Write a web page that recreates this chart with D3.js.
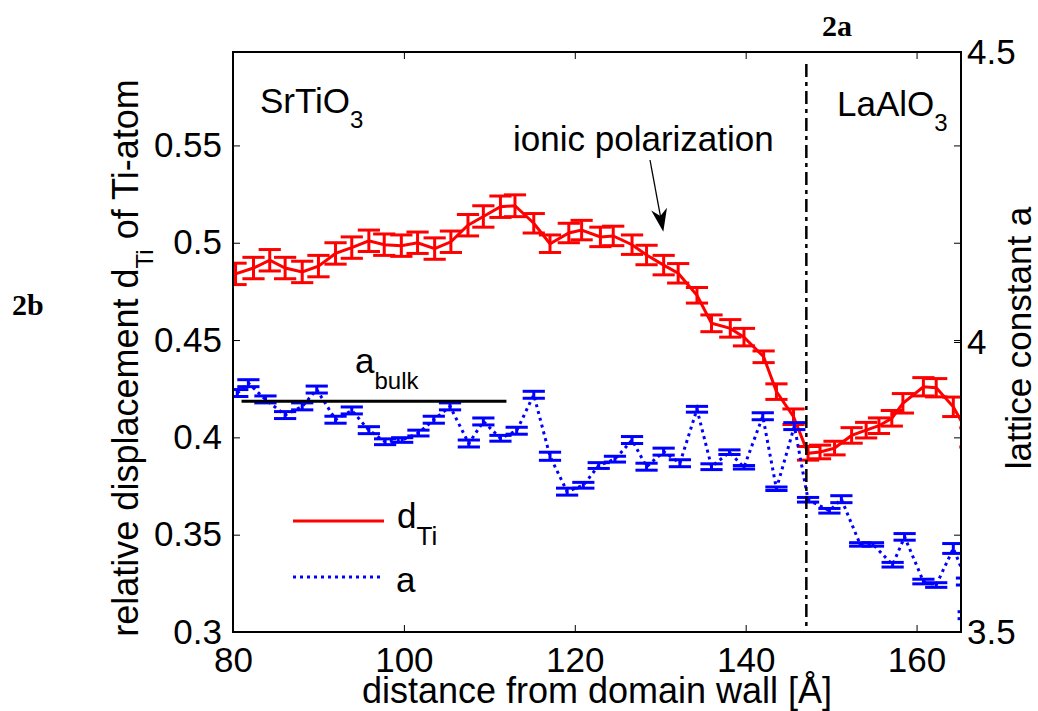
<!DOCTYPE html>
<html>
<head>
<meta charset="utf-8">
<script src="https://cdn.jsdelivr.net/npm/d3@7"></script>
<style>
body { margin: 0; background: #fff; }
svg text { font-family: "Liberation Sans", Arial, sans-serif; fill: #000; }
</style>
</head>
<body>
<svg id="chart" width="1038" height="711"></svg>
<script>
// axis ticks
var xTicks = [80, 100, 120, 140, 160];
var leftTicks = [0.3, 0.35, 0.4, 0.45, 0.5, 0.55];
var rightTicks = [3.5, 4, 4.5];

// d_Ti, relative displacement (left axis)
var dPos = [80.3, 82.4, 84.3, 86.1, 88.1, 90.0, 92.0, 93.9, 95.9, 97.7,
            99.7, 101.6, 103.6, 105.5, 107.5, 109.3, 111.3, 113.0, 115.2, 117.1,
            119.3, 120.8, 123.0, 124.5, 126.7, 128.4, 130.4, 132.1, 134.3, 136.0,
            138.2, 139.8, 142.1, 143.6, 145.6, 147.3, 148.7, 150.4, 152.4, 154.1,
            155.6, 157.1, 158.4, 160.8, 162.3, 164.3, 166.3];
var dVal = [0.484, 0.487, 0.491, 0.487, 0.485, 0.488, 0.4945, 0.4975, 0.501, 0.499,
            0.4985, 0.500, 0.497, 0.5005, 0.509, 0.5135, 0.5185, 0.519, 0.510, 0.4995,
            0.505, 0.5065, 0.503, 0.5035, 0.499, 0.4937, 0.4885, 0.4843, 0.473, 0.4586,
            0.456, 0.4515, 0.4414, 0.4235, 0.4106, 0.3918, 0.3925, 0.3945, 0.401, 0.4037,
            0.406, 0.4098, 0.4175, 0.426, 0.4255, 0.4157, 0.400];
var dErr = [0.0055, 0.0055, 0.0055, 0.0055, 0.0055, 0.0055, 0.0055, 0.0055, 0.0055, 0.0055,
            0.0055, 0.0055, 0.0055, 0.0055, 0.0055, 0.0055, 0.0055, 0.0056, 0.005, 0.0045,
            0.005, 0.005, 0.005, 0.005, 0.005, 0.005, 0.005, 0.005, 0.004, 0.0043,
            0.0045, 0.0045, 0.003, 0.004, 0.004, 0.0035, 0.0035, 0.0035, 0.004, 0.004,
            0.004, 0.004, 0.005, 0.0047, 0.0047, 0.005, 0.005];

// lattice constant a (right axis)
var aPos = [80.5, 81.8, 83.8, 86.1, 88.1, 89.8, 92.0, 93.9, 95.9, 97.8,
            99.8, 101.7, 103.5, 105.4, 107.6, 109.3, 111.3, 113.2, 115.2, 117.1,
            119.1, 121.0, 122.8, 124.7, 126.7, 128.4, 130.4, 132.3, 134.3, 136.0,
            138.1, 139.8, 142.0, 143.6, 145.7, 147.3, 149.8, 151.2, 153.4, 154.9,
            157.2, 158.6, 160.8, 162.3, 164.3, 165.9, 166.1];
var aVal = [3.912, 3.929, 3.901, 3.874, 3.889, 3.918, 3.866, 3.882, 3.848, 3.828,
            3.831, 3.843, 3.866, 3.889, 3.825, 3.863, 3.834, 3.847, 3.909, 3.803,
            3.742, 3.753, 3.787, 3.798, 3.831, 3.785, 3.811, 3.791, 3.884, 3.785,
            3.81, 3.784, 3.872, 3.747, 3.855, 3.728, 3.709, 3.729, 3.651, 3.651,
            3.616, 3.664, 3.587, 3.581, 3.644, 3.587, 3.529];
var aErr = [0.006, 0.006, 0.006, 0.006, 0.006, 0.006, 0.006, 0.006, 0.006, 0.005,
            0.004, 0.005, 0.006, 0.006, 0.006, 0.006, 0.005, 0.006, 0.006, 0.007,
            0.006, 0.005, 0.005, 0.005, 0.006, 0.006, 0.006, 0.006, 0.005, 0.005,
            0.004, 0.003, 0.006, 0.003, 0.006, 0.004, 0.004, 0.006, 0.003, 0.003,
            0.004, 0.0057, 0.004, 0.004, 0.0085, 0.006, 0.006];

var aBulk = 3.898;
var aBulkRange = [81, 112];
var wallPos = 147.1;

var svg = d3.select("#chart");
var pLeft = 233, pTop = 52, pRight = 961, pBottom = 632;
var capW = 1.3; // half width of error bar caps, in Angstrom

var x = d3.scaleLinear().domain([80, 165.2]).range([pLeft, pRight]);
var yL = d3.scaleLinear().domain([0.3, 0.598]).range([pBottom, pTop]);
var yR = d3.scaleLinear().domain([3.5, 4.5]).range([pBottom, pTop]);

svg.append("defs").append("clipPath").attr("id", "plotclip")
    .append("rect")
    .attr("x", pLeft).attr("y", pTop)
    .attr("width", pRight - pLeft).attr("height", pBottom - pTop);

var plot = svg.append("g").attr("clip-path", "url(#plotclip)");

function toRows(pos, val, err){
    var rows = [];
    for (var i in pos){
        rows.push({ p: pos[i], v: val[i], e: err[i] });
    }
    return rows;
}

function drawSeries(rows, yScale, color, dash)
{
    var g = plot.append("g");
    var line = d3.line()
        .x(function(d){ return x(d.p); })
        .y(function(d){ return yScale(d.v); });
    g.append("path")
        .datum(rows)
        .attr("d", line)
        .attr("fill", "none")
        .attr("stroke", color)
        .attr("stroke-width", 3)
        .attr("stroke-dasharray", dash);

    var bars = g.selectAll("g.err").data(rows).enter().append("g")
        .attr("stroke", color).attr("stroke-width", 3);
    bars.append("line")
        .attr("x1", function(d){ return x(d.p); })
        .attr("x2", function(d){ return x(d.p); })
        .attr("y1", function(d){ return yScale(d.v - d.e); })
        .attr("y2", function(d){ return yScale(d.v + d.e); });
    bars.append("line")
        .attr("x1", function(d){ return x(d.p - capW); })
        .attr("x2", function(d){ return x(d.p + capW); })
        .attr("y1", function(d){ return yScale(d.v - d.e); })
        .attr("y2", function(d){ return yScale(d.v - d.e); });
    bars.append("line")
        .attr("x1", function(d){ return x(d.p - capW); })
        .attr("x2", function(d){ return x(d.p + capW); })
        .attr("y1", function(d){ return yScale(d.v + d.e); })
        .attr("y2", function(d){ return yScale(d.v + d.e); });
}

drawSeries(toRows(dPos, dVal, dErr), yL, "#ff0000", null);
drawSeries(toRows(aPos, aVal, aErr), yR, "#0000ff", "3 4");

// a bulk reference
plot.append("line")
    .attr("x1", x(aBulkRange[0])).attr("x2", x(aBulkRange[1]))
    .attr("y1", yR(aBulk)).attr("y2", yR(aBulk))
    .attr("stroke", "#000").attr("stroke-width", 3);

// domain wall / interface
plot.append("line")
    .attr("x1", x(wallPos)).attr("x2", x(wallPos))
    .attr("y1", 64).attr("y2", pBottom)
    .attr("stroke", "#000").attr("stroke-width", 2.5)
    .attr("stroke-dasharray", "13 5 4 5");

// axes
function styleAxis(g){
    g.select(".domain").remove();
    g.attr("font-family", "Liberation Sans, Arial, sans-serif").attr("font-size", 35);
    g.selectAll(".tick line").attr("stroke", "#000").attr("stroke-width", 1);
}

svg.append("g").attr("transform", "translate(0," + pBottom + ")")
    .call(d3.axisBottom(x).tickValues(xTicks).tickSize(-7).tickPadding(15).tickFormat(String))
    .call(styleAxis);
svg.append("g").attr("transform", "translate(0," + pTop + ")")
    .call(d3.axisTop(x).tickValues(xTicks).tickSize(-7).tickFormat(""))
    .call(styleAxis);
svg.append("g").attr("transform", "translate(" + pLeft + ",0)")
    .call(d3.axisLeft(yL).tickValues(leftTicks).tickSize(-7).tickPadding(11).tickFormat(String))
    .call(styleAxis);
svg.append("g").attr("transform", "translate(" + pRight + ",0)")
    .call(d3.axisRight(yL).tickValues(leftTicks).tickSize(-7).tickFormat(""))
    .call(styleAxis);
svg.append("g").attr("transform", "translate(" + pRight + ",0)")
    .call(d3.axisRight(yR).tickValues(rightTicks).tickSize(-7).tickPadding(6).tickFormat(String))
    .call(styleAxis);

// frame
svg.append("rect")
    .attr("x", pLeft).attr("y", pTop)
    .attr("width", pRight - pLeft).attr("height", pBottom - pTop)
    .attr("fill", "none").attr("stroke", "#000").attr("stroke-width", 2);

// texts with subscripts: parts alternate normal / subscript
function subText(px, py, parts, size, subSize, dy, rotate){
    var t = svg.append("text").attr("font-size", size);
    if (rotate){
        t.attr("transform", "translate(" + px + "," + py + ") rotate(-90)").attr("text-anchor", "middle");
    } else {
        t.attr("x", px).attr("y", py);
    }
    for (var i = 0; i < parts.length; i++){
        var s = t.append("tspan").text(parts[i]);
        if (i % 2 == 1){
            s.attr("font-size", subSize).attr("dy", dy);
        } else if (i > 0){
            s.attr("dy", -dy);
        }
    }
    return t;
}

subText(260, 113, ["SrTiO", "3"], 35, 24, 15);
subText(837, 116, ["LaAlO", "3"], 35, 24, 15);
subText(355, 373, ["a", "bulk"], 35, 24, 16);
subText(397, 528, ["d", "Ti"], 35, 26, 17);
svg.append("text").attr("x", 396).attr("y", 592).attr("font-size", 35).text("a");

svg.append("text").attr("x", 513).attr("y", 151).attr("font-size", 35).text("ionic polarization");

svg.append("text").attr("x", (pLeft + pRight) / 2).attr("y", 703)
    .attr("text-anchor", "middle").attr("font-size", 36)
    .text("distance from domain wall [\u00c5]");

subText(138, 358, ["relative displacement d", "Ti", " of Ti-atom"], 36, 24, 15, true);

svg.append("text").attr("transform", "translate(1031,338) rotate(-90)")
    .attr("text-anchor", "middle").attr("font-size", 35)
    .text("lattice constant a");

svg.append("text").attr("x", 822).attr("y", 36)
    .style("font-family", "'Liberation Serif', 'Times New Roman', serif")
    .attr("font-weight", "bold").attr("font-size", 30).text("2a");
svg.append("text").attr("x", 12).attr("y", 315)
    .style("font-family", "'Liberation Serif', 'Times New Roman', serif")
    .attr("font-weight", "bold").attr("font-size", 30).text("2b");

// legend
svg.append("line").attr("x1", 293).attr("x2", 384).attr("y1", 521).attr("y2", 521)
    .attr("stroke", "#ff0000").attr("stroke-width", 3);
svg.append("line").attr("x1", 293).attr("x2", 380).attr("y1", 577).attr("y2", 577)
    .attr("stroke", "#0000ff").attr("stroke-width", 3).attr("stroke-dasharray", "3 4");

// arrow for ionic polarization
var tail = [650, 160], tip = [663.3, 231.7];
var ddx = tip[0] - tail[0], ddy = tip[1] - tail[1];
var len = Math.sqrt(ddx * ddx + ddy * ddy);
var ux = ddx / len, uy = ddy / len;
var hl = 23, hw = 8, notch = 7;
svg.append("line")
    .attr("x1", tail[0]).attr("y1", tail[1])
    .attr("x2", tip[0] - ux * notch * 2).attr("y2", tip[1] - uy * notch * 2)
    .attr("stroke", "#000").attr("stroke-width", 1.3);
var head = [
    [tip[0], tip[1]],
    [tip[0] - ux * hl - uy * hw, tip[1] - uy * hl + ux * hw],
    [tip[0] - ux * (hl - notch), tip[1] - uy * (hl - notch)],
    [tip[0] - ux * hl + uy * hw, tip[1] - uy * hl - ux * hw]
];
svg.append("path").attr("d", "M" + head.join("L") + "Z").attr("fill", "#000");
</script>
</body>
</html>
